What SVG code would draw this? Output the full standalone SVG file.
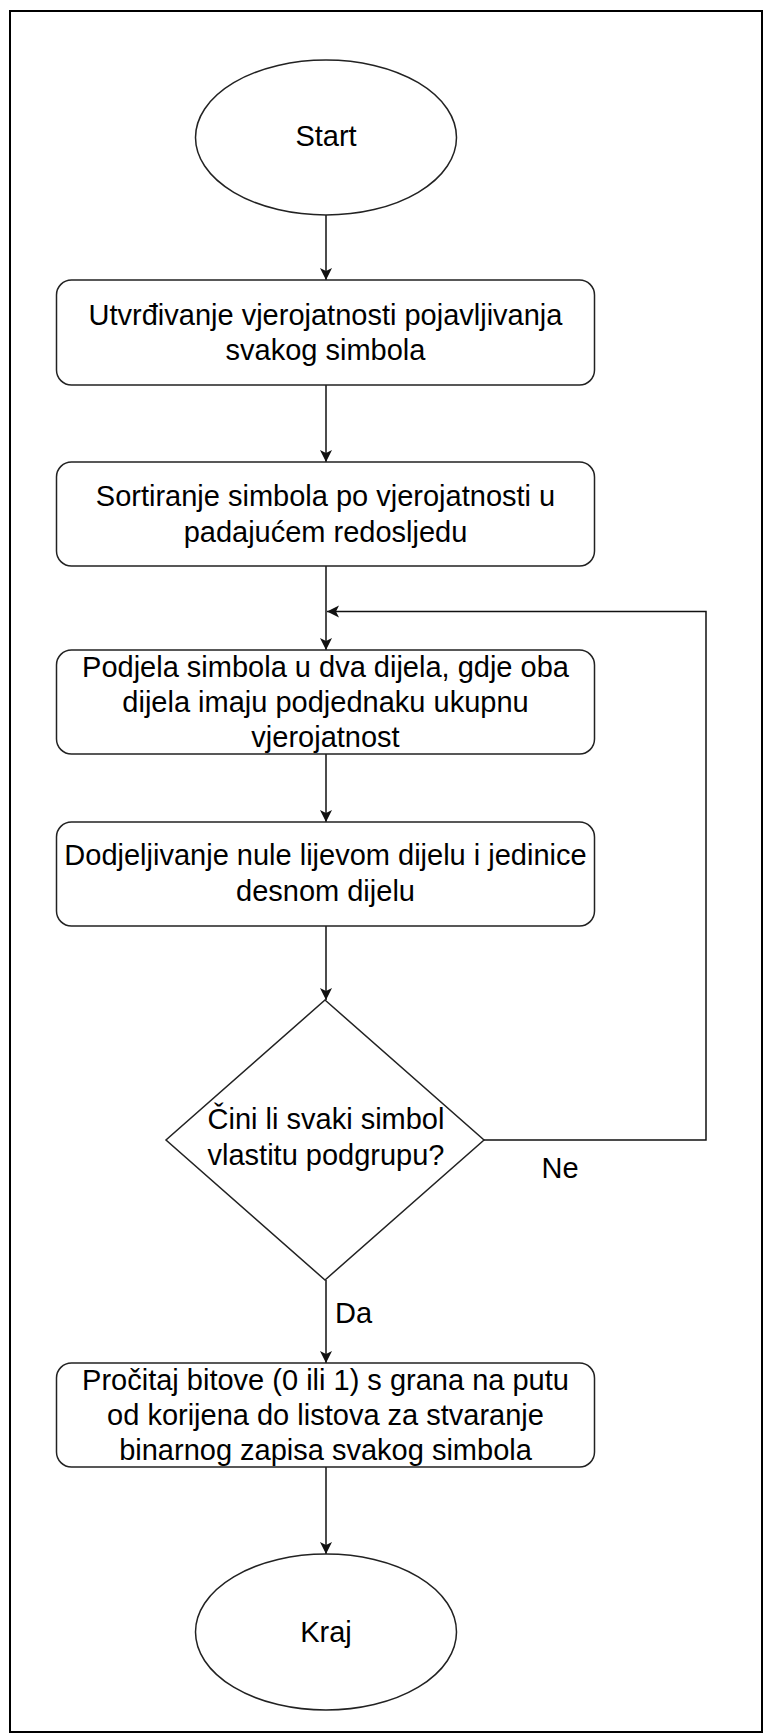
<svg xmlns="http://www.w3.org/2000/svg" width="763" height="1733" viewBox="0 0 763 1733">
<style>
.shape{fill:#fff;stroke:#222;stroke-width:1.5}
.edge{fill:none;stroke:#111;stroke-width:1.5}
text{font-family:"Liberation Sans",Arial,sans-serif;font-size:29px;fill:#000;text-anchor:middle}
</style>
<defs>
<marker id="arr" markerUnits="userSpaceOnUse" markerWidth="14" markerHeight="14" refX="12" refY="6" orient="auto">
<path d="M0,0 L12,6 L0,12 L3,6 Z" fill="#111"/>
</marker>
</defs>
<rect x="10" y="11" width="752" height="1721" fill="#fff" stroke="#000" stroke-width="2"/>
<g id="connectors">
<line class="edge" x1="326" y1="215" x2="326" y2="280" marker-end="url(#arr)"/>
<line class="edge" x1="326" y1="385" x2="326" y2="462" marker-end="url(#arr)"/>
<line class="edge" x1="326" y1="566" x2="326" y2="650" marker-end="url(#arr)"/>
<line class="edge" x1="326" y1="754" x2="326" y2="822" marker-end="url(#arr)"/>
<line class="edge" x1="326" y1="926" x2="326" y2="1000" marker-end="url(#arr)"/>
<polyline class="edge" points="484,1140 706,1140 706,611.5 327,611.5" marker-end="url(#arr)"/>
<line class="edge" x1="326" y1="1280" x2="326" y2="1363" marker-end="url(#arr)"/>
<line class="edge" x1="326" y1="1467" x2="326" y2="1554" marker-end="url(#arr)"/>
<text x="560" y="1178">Ne</text>
<text x="335" y="1323" style="text-anchor:start">Da</text>
</g>
<g id="start">
<ellipse class="shape" cx="326" cy="137.5" rx="130.5" ry="77.5"/>
<text x="326" y="146">Start</text>
</g>
<g id="step1">
<rect class="shape" x="56.5" y="280" width="538" height="105" rx="15" ry="15"/>
<text x="325.5" y="325">Utvrđivanje vjerojatnosti pojavljivanja</text>
<text x="325.5" y="360">svakog simbola</text>
</g>
<g id="step2">
<rect class="shape" x="56.5" y="462" width="538" height="104" rx="15" ry="15"/>
<text x="325.5" y="506">Sortiranje simbola po vjerojatnosti u</text>
<text x="325.5" y="542">padajućem redosljedu</text>
</g>
<g id="step3">
<rect class="shape" x="56.5" y="650" width="538" height="104" rx="15" ry="15"/>
<text x="325.5" y="677">Podjela simbola u dva dijela, gdje oba</text>
<text x="325.5" y="712">dijela imaju podjednaku ukupnu</text>
<text x="325.5" y="747">vjerojatnost</text>
</g>
<g id="step4">
<rect class="shape" x="56.5" y="822" width="538" height="104" rx="15" ry="15"/>
<text x="325.5" y="865">Dodjeljivanje nule lijevom dijelu i jedinice</text>
<text x="325.5" y="901">desnom dijelu</text>
</g>
<g id="decision">
<polygon class="shape" points="325,1000 484,1140 325,1280 166,1140"/>
<text x="326" y="1129">Čini li svaki simbol</text>
<text x="326" y="1165">vlastitu podgrupu?</text>
</g>
<g id="step5">
<rect class="shape" x="56.5" y="1363" width="538" height="104" rx="15" ry="15"/>
<text x="325.5" y="1390">Pročitaj bitove (0 ili 1) s grana na putu</text>
<text x="325.5" y="1425">od korijena do listova za stvaranje</text>
<text x="325.5" y="1460">binarnog zapisa svakog simbola</text>
</g>
<g id="end">
<ellipse class="shape" cx="326" cy="1632" rx="130.5" ry="78"/>
<text x="326" y="1642">Kraj</text>
</g>
</svg>
